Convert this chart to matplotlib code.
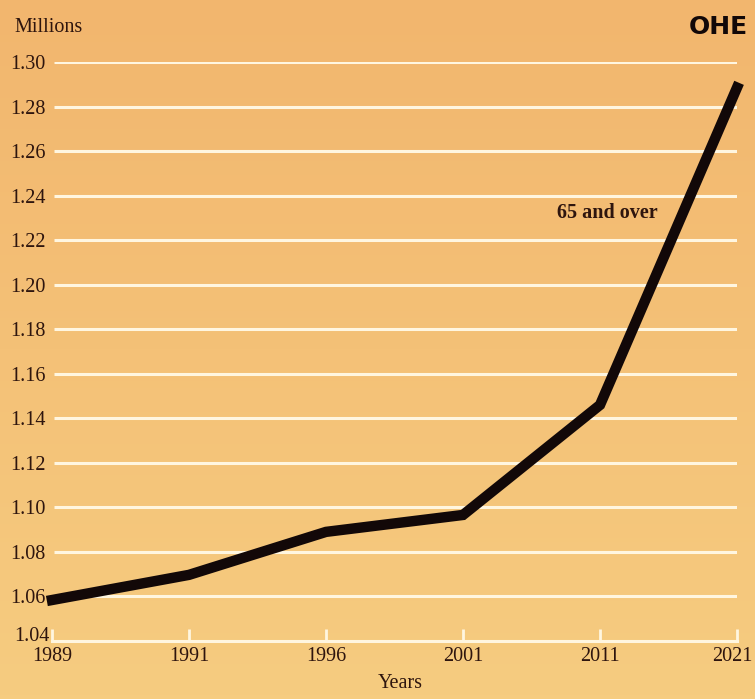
import matplotlib
matplotlib.use("Agg")
import matplotlib.pyplot as plt
import matplotlib.transforms as mtransforms
import numpy as np

years = ["1989", "1991", "1996", "2001", "2011", "2021"]
values = [1.0584, 1.0697, 1.089, 1.0966, 1.146, 1.2885]
yticks = [1.04, 1.06, 1.08, 1.10, 1.12, 1.14, 1.16, 1.18, 1.20, 1.22, 1.24, 1.26, 1.28, 1.30]

W, H = 755, 699
fig = plt.figure(figsize=(W / 100, H / 100), dpi=100)

# background gradient (orange at top, more yellow at bottom)
bg = fig.add_axes([0, 0, 1, 1])
top = np.array([242, 182, 110]) / 255
bot = np.array([246, 204, 128]) / 255
t = np.linspace(0, 1, 200)[:, None]
grad = top * (1 - t) + bot * t
img = np.repeat(grad[:, None, :], 2, axis=1)
bg.imshow(img, aspect="auto", extent=[0, 1, 0, 1], origin="upper")
bg.set_axis_off()

serif = ["Liberation Serif", "DejaVu Serif"]
tc = "#2e150e"
fs = 14.5

left = 52 / W
right = 737 / W
bottom = 1 - 641 / H
topp = 1 - 62 / H
ax = fig.add_axes([left, bottom, right - left, topp - bottom])
ax.patch.set_alpha(0)
x = np.arange(len(years))
ax.set_xlim(0, len(years) - 1)
ax.set_ylim(1.04, 1.30)

for yv in yticks[1:]:
    ax.plot([0.015, len(years) - 1], [yv, yv], color="#fff6e0", lw=2.2, zorder=1, solid_capstyle="butt")

for s in ["left", "right", "top"]:
    ax.spines[s].set_visible(False)
ax.spines["bottom"].set_color("#fff6e0")
ax.spines["bottom"].set_linewidth(2.2)

ax.plot(x, values, color="#120808", lw=7.5, zorder=3, clip_on=False, solid_joinstyle="miter")

ax.set_xticks(x)
ax.set_xticklabels(years, fontfamily=serif, fontsize=fs, color=tc)
ax.tick_params(axis="x", direction="in", length=9, width=2, color="#fff6e0", pad=4)
last = ax.get_xticklabels()[-1]
last.set_transform(last.get_transform() + mtransforms.ScaledTranslation(-5 / 100, 0, fig.dpi_scale_trans))
ax.set_yticks(yticks[1:])
ax.set_yticklabels([f"{v:.2f}" for v in yticks[1:]], fontfamily=serif, fontsize=fs, color=tc)
ax.tick_params(axis="y", length=0, pad=3)
for lbl in ax.get_yticklabels():
    lbl.set_horizontalalignment("left")
    lbl.set_x(-38 / (737 - 52))
ax.text(-38 / (737 - 52), 1.0422, f"{yticks[0]:.2f}", transform=ax.get_yaxis_transform(),
        fontfamily=serif, fontsize=fs, color=tc, ha="left", va="center")

fig.text(400 / W, 1 - 684 / H, "Years", fontfamily=serif, fontsize=fs, color=tc, ha="center", va="center")
fig.text(14 / W, 1 - 28 / H, "Millions", fontfamily=serif, fontsize=fs, color=tc, ha="left", va="center")
fig.text(557 / W, 1 - 213 / H, "65 and over", fontfamily=serif, fontsize=fs, color=tc,
         ha="left", va="center", fontweight="bold")
fig.text(748 / W, 1 - 27 / H, "OHE", fontfamily="DejaVu Sans", fontsize=18, color="#120808",
         ha="right", va="center", fontweight="bold")

fig.savefig("out.png", dpi=100)
